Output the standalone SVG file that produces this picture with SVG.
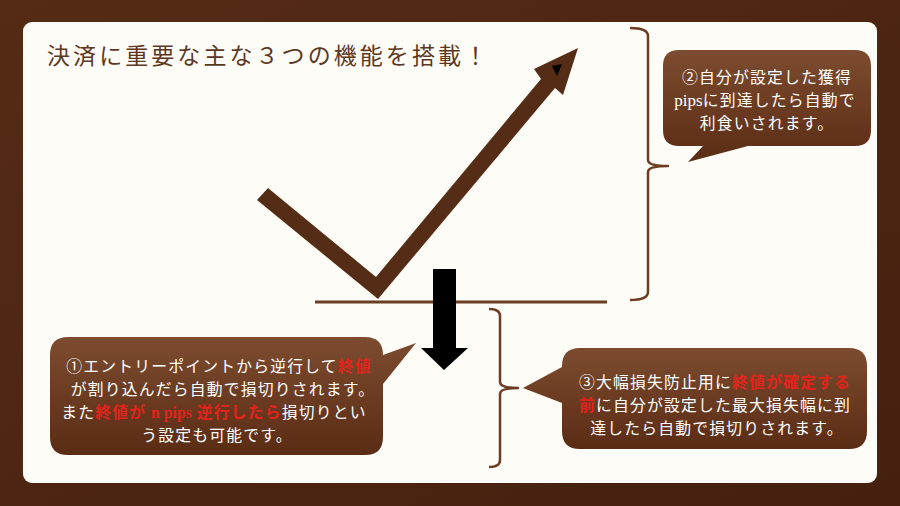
<svg xmlns="http://www.w3.org/2000/svg" width="900" height="506" viewBox="0 0 900 506">
<defs>
<linearGradient id="bub" x1="0" y1="0" x2="0" y2="1">
<stop offset="0" stop-color="#7d4c30"/>
<stop offset="1" stop-color="#5a2c14"/>
</linearGradient>
<linearGradient id="bg" x1="0" y1="0" x2="1" y2="1">
<stop offset="0" stop-color="#552b15"/>
<stop offset="1" stop-color="#45200f"/>
</linearGradient>
<style>
.t{font-family:"Noto Sans CJK JP","Noto Sans",sans-serif;font-size:15.8px;letter-spacing:1.2px;fill:#fff;text-anchor:middle}
.r{fill:#e3231b;font-weight:bold}
.s{font-family:"Liberation Serif","Noto Sans CJK JP",serif;letter-spacing:0}
.br{fill:none;stroke:#6b3d22;stroke-width:2.5;stroke-linejoin:round}
.b{fill:url(#bub)}
</style>
</defs>
<rect width="900" height="506" fill="url(#bg)"/>
<rect x="23" y="22" width="854" height="461" rx="9" fill="#fefcf7"/>
<text x="47" y="64" font-family="'Noto Sans CJK JP',sans-serif" font-size="23" fill="#5c3822" textLength="440" lengthAdjust="spacing">決済に重要な主な３つの機能を搭載！</text>

<g id="check">
<polygon points="257,200 268,188 376,277 541,79 534,69 578,48 563,95 555,88 378,299" fill="#552d16"/>
<polygon points="552,66 562,64 557,76" fill="#000"/>
</g>
<g id="baseline">
<line x1="315" y1="302" x2="607" y2="302" stroke="#6b3d22" stroke-width="3"/>
</g>
<g id="down-arrow">
<polygon points="433,269 456,269 456,348 468,348 444,370 421,348 433,348" fill="#000"/>
</g>

<g id="connectors">
<path class="br" d="M630,28 Q648,28 648,36 V160 Q648,166 668,166 Q648,166 648,172 V292 Q648,300 630,300"/>
<path class="br" d="M489,309 Q500,309 500,316 V382 Q500,388 518,388 Q500,388 500,394 V460 Q500,467 489,467"/>
</g>

<g id="bubble2">
<path class="b" d="M679,50 H855 Q871,50 871,66 V130 Q871,146 855,146 H748 L688,162 L703,146 H679 Q663,146 663,130 V66 Q663,50 679,50 Z"/>
<text class="t"><tspan x="767" y="83">②自分が設定した獲得</tspan><tspan x="765" y="106"><tspan class="s" font-size="17">pips</tspan>に到達したら自動で</tspan><tspan x="767" y="129">利食いされます。</tspan></text>
</g>

<g id="bubble1">
<path class="b" d="M68,337 H365 Q383,337 383,355 L416,343 L383,384 V437 Q383,455 365,455 H68 Q50,455 50,437 V355 Q50,337 68,337 Z"/>
<text class="t"><tspan x="219" y="372">①エントリーポイントから逆行して<tspan class="r">終値</tspan></tspan><tspan x="223" y="395">が割り込んだら自動で損切りされます。</tspan><tspan x="214" y="418">また<tspan class="r">終値が <tspan class="s">n pips</tspan> 逆行したら</tspan>損切りとい</tspan><tspan x="217" y="441">う設定も可能です。</tspan></text>
</g>

<g id="bubble3">
<path class="b" d="M580,348 H849 Q867,348 867,366 V431 Q867,449 849,449 H580 Q562,449 562,431 V403 L523,388 L562,367 V366 Q562,348 580,348 Z"/>
<text class="t"><tspan x="715" y="388">③大幅損失防止用に<tspan class="r">終値が確定する</tspan></tspan><tspan x="715" y="411"><tspan class="r">前</tspan>に自分が設定した最大損失幅に到</tspan><tspan x="717" y="434">達したら自動で損切りされます。</tspan></text>
</g>
</svg>
